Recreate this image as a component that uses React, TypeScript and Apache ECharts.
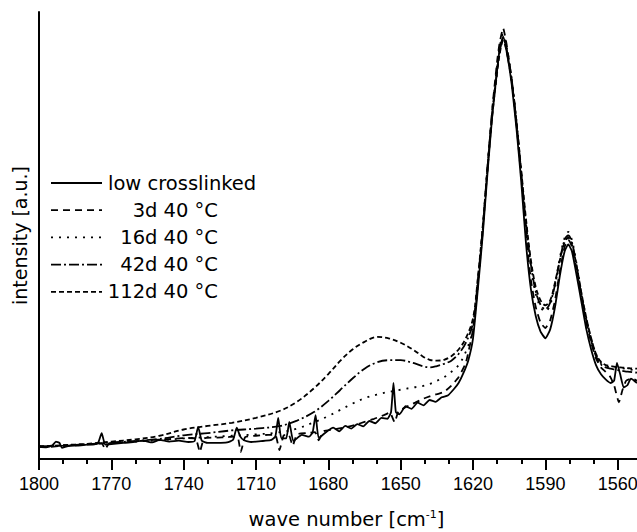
import { useEffect, useRef } from "react";
import * as echarts from "echarts";

// ---- data ----
const majorTicks = [1800, 1770, 1740, 1710, 1680, 1650, 1620, 1590, 1560];
const minorTicks = [1790, 1780, 1760, 1750, 1730, 1720, 1700, 1690, 1670, 1660, 1640, 1630, 1610, 1600, 1580, 1570];
const seriesNames = ["low crosslinked", "3d 40 °C", "16d 40 °C", "42d 40 °C", "112d 40 °C"];

const lowCrosslinked: [number, number][] = [
  [1800, 2.7], [1797, 2.6], [1794.5, 3.0], [1793, 3.9], [1791.5, 3.6], [1790.5, 2.5], [1788, 2.9], [1784, 3.0],
  [1780, 3.2], [1777, 3.3], [1775.5, 3.6], [1774, 5.8], [1772.5, 3.2], [1769, 3.4], [1765, 3.6], [1761, 3.8],
  [1757, 4.1], [1753, 3.7], [1750, 4.3], [1746, 3.9], [1742, 4.1], [1738, 3.8], [1735.5, 4.0], [1734, 7.2],
  [1732.5, 4.1], [1730, 3.6], [1726, 3.6], [1722, 3.7], [1719.5, 4.3], [1718, 7.0], [1716.5, 5.0], [1715, 4.2],
  [1712, 3.8], [1708, 4.0], [1704, 4.2], [1702, 5.0], [1700.8, 9.2], [1699.5, 4.6], [1697.5, 4.6], [1696.2, 8.3],
  [1694.5, 4.0], [1691, 5.4], [1688, 5.0], [1686.5, 6.0], [1685.3, 9.8], [1684, 4.7], [1681, 6.0], [1678, 7.0],
  [1675.5, 6.2], [1673, 7.4], [1670.5, 6.8], [1668, 7.8], [1665.5, 7.3], [1663, 8.5], [1660.5, 8.0], [1658, 9.2],
  [1655.5, 9.0], [1654, 10.5], [1653, 17.0], [1652, 10.5], [1650.5, 10.0], [1648, 11.8], [1645.5, 11.2], [1643, 12.6],
  [1640.5, 12.0], [1638, 13.2], [1635.5, 12.8], [1633, 13.8], [1630.5, 14.2], [1628, 15.6], [1626, 17.0], [1624, 19.2],
  [1622, 22.0], [1620, 27], [1618, 38], [1616, 50], [1614, 64], [1612, 77], [1610, 87], [1609, 91.5],
  [1607.5, 94.5], [1606, 91], [1604, 84], [1602, 74], [1600, 62], [1598, 48], [1596, 38], [1594, 32],
  [1592, 28.5], [1590, 27], [1588, 29], [1586, 34], [1584, 41], [1582, 46.5], [1580.5, 48], [1579, 46.5],
  [1577, 41], [1575, 35], [1573, 29], [1571, 24.5], [1569, 21], [1567, 19], [1565, 17.8], [1563, 17],
  [1561.5, 17.5], [1560.3, 21.5], [1559, 19], [1557.5, 16], [1556, 16.5], [1554.5, 18], [1552, 17],
];

const aged3d: [number, number][] = [
  [1800, 2.8], [1796, 2.7], [1792, 2.9], [1788, 3.0], [1784, 3.1], [1780, 3.3], [1776, 3.4], [1774, 3.5],
  [1772.5, 2.2], [1771, 3.5], [1767, 3.7], [1762, 3.9], [1757, 4.1], [1752, 4.3], [1747, 4.4], [1742, 4.6],
  [1738, 4.7], [1735, 4.6], [1733.3, 1.6], [1731.5, 4.6], [1726, 4.8], [1722, 4.9], [1719, 5.0], [1717.5, 4.8],
  [1716.3, 1.6], [1714.5, 4.9], [1710, 5.2], [1705, 5.4], [1702, 5.4], [1700.3, 2.0], [1698.5, 5.3], [1696.5, 5.5],
  [1694.8, 3.0], [1693, 5.5], [1689, 5.8], [1685.5, 6.0], [1684, 4.2], [1682, 6.2], [1678, 6.6], [1673, 7.1],
  [1669, 7.6], [1665, 8.3], [1661, 9.0], [1657, 9.8], [1654.5, 10.4], [1652.5, 8.2], [1651, 10.6], [1648, 11.6],
  [1644, 12.6], [1641, 13.4], [1638, 14], [1635, 14.5], [1632, 15], [1629, 16.4], [1626, 18.3], [1623, 21.5],
  [1620, 29], [1618, 39], [1616, 51], [1614, 65.5], [1612, 78.5], [1610, 89], [1609, 93], [1607.5, 96.4],
  [1606, 92.5], [1604, 85], [1602, 75], [1600, 63], [1598, 50], [1596, 40], [1594, 34], [1592, 30.5],
  [1590, 29.3], [1588, 31], [1586, 35.5], [1584, 42], [1582, 47.5], [1580.5, 49], [1579, 47.5], [1577, 42],
  [1575, 36], [1573, 30.5], [1571, 26], [1569, 22.5], [1567, 20.5], [1565, 19.5], [1563, 18.3], [1561.5, 16.5],
  [1559.5, 12.7], [1558, 15.5], [1556.5, 17.5], [1554, 18], [1552, 17.5],
];

const aged16d: [number, number][] = [
  [1800, 2.8], [1790, 3.0], [1780, 3.3], [1770, 3.6], [1760, 3.9], [1750, 4.2], [1740, 4.6], [1730, 4.9],
  [1720, 5.2], [1710, 5.5], [1700, 6.0], [1693, 6.8], [1686, 8.2], [1680, 9.6], [1675, 11], [1670, 12.4],
  [1665, 13.6], [1660, 14.4], [1655, 15], [1650, 15.5], [1645, 16], [1641, 16.3], [1638, 16.8], [1635, 17.5],
  [1632, 18.3], [1629, 19.5], [1626, 21], [1623, 24], [1620, 29], [1618, 39.5], [1616, 51], [1614, 65],
  [1612, 78], [1610, 88], [1609, 92], [1607.5, 95], [1606, 92], [1604, 85], [1602, 75.5], [1600, 64],
  [1598, 52], [1596, 43], [1594, 37], [1592, 34], [1590, 33], [1588, 34.5], [1586, 39], [1584, 45],
  [1582, 49.5], [1580.5, 50.8], [1579, 49], [1577, 43.5], [1575, 37], [1573, 31.5], [1571, 27], [1569, 23.5],
  [1567, 21.5], [1565, 20.8], [1563, 20.5], [1561, 20.5], [1559, 20.4], [1557, 20.2], [1555, 20], [1552, 19.8],
];

const aged42d: [number, number][] = [
  [1800, 2.8], [1790, 3.0], [1780, 3.3], [1770, 3.7], [1760, 4.0], [1750, 4.5], [1740, 5.3], [1730, 5.8],
  [1720, 6.4], [1710, 6.8], [1700, 7.4], [1693, 8.6], [1686, 10.5], [1680, 13], [1675, 15.5], [1670, 18],
  [1665, 20.2], [1660, 21.6], [1655, 22.1], [1650, 22.1], [1645, 21.5], [1641, 20.8], [1638, 20.5], [1635, 20.8],
  [1632, 21.3], [1629, 22], [1626, 23.5], [1623, 26], [1620, 30.5], [1618, 40], [1616, 51.5], [1614, 65],
  [1612, 77.5], [1610, 87], [1609, 91], [1607.5, 94], [1606, 91.5], [1604, 85], [1602, 75.5], [1600, 64],
  [1598, 52.5], [1596, 43.5], [1594, 37.5], [1592, 34.5], [1590, 33.5], [1588, 35], [1586, 39], [1584, 44.5],
  [1582, 49], [1580.5, 50], [1579, 48.5], [1577, 43], [1575, 36.5], [1573, 31], [1571, 26.5], [1569, 23],
  [1567, 21.2], [1565, 20.5], [1563, 20.2], [1561, 20], [1559, 19.8], [1557, 19.6], [1555, 19.5], [1552, 19.3],
];

const aged112d: [number, number][] = [
  [1800, 2.8], [1790, 3.1], [1780, 3.4], [1770, 3.9], [1760, 4.4], [1750, 5.2], [1740, 6.6], [1730, 7.4],
  [1720, 8.1], [1710, 9.2], [1700, 10.8], [1693, 12.8], [1686, 15.8], [1680, 19], [1675, 22], [1670, 24.5],
  [1665, 26.2], [1660, 27.3], [1655, 27], [1650, 26], [1645, 24.5], [1641, 23], [1638, 22.2], [1635, 22],
  [1632, 22.2], [1629, 23], [1626, 24.5], [1623, 27], [1620, 31.5], [1618, 40.5], [1616, 52], [1614, 65],
  [1612, 77], [1610, 86.5], [1609, 90.5], [1607.5, 93.5], [1606, 91], [1604, 84.5], [1602, 75.5], [1600, 64.5],
  [1598, 53.5], [1596, 44.5], [1594, 38.5], [1592, 35.5], [1590, 34.4], [1588, 35.5], [1586, 39.5], [1584, 44.5],
  [1582, 48.5], [1580.5, 49.5], [1579, 48], [1577, 43], [1575, 37], [1573, 31.5], [1571, 27], [1569, 23.5],
  [1567, 21.8], [1565, 21], [1563, 20.8], [1561, 20.6], [1559, 20.5], [1557, 20.4], [1555, 20.3], [1552, 20.2],
];

const seriesData = [lowCrosslinked, aged3d, aged16d, aged42d, aged112d];

// ---- styles ----
const dashes: (number[] | null)[] = [null, [7, 5], [2, 6], [10, 3, 2, 3], [5, 3]];
const smoothness = [0.15, 0.15, 0.35, 0.35, 0.35];
const LW = 1.8;

export default function App() {
  const ref = useRef<HTMLDivElement>(null);
  useEffect(() => {
    if (!ref.current) return;
    const chart = echarts.init(ref.current, undefined, { renderer: "svg" });
    const legendTop = 183;
    const legendStep = 27.2;
    const graphic: any[] = [];
    seriesNames.forEach((name, i) => {
      const y = legendTop + i * legendStep;
      graphic.push({
        type: "line",
        silent: true,
        shape: { x1: 51, y1: y, x2: 102, y2: y },
        style: { stroke: "#000", lineWidth: LW, lineDash: dashes[i] || undefined },
      });
      graphic.push({
        type: "text",
        silent: true,
        x: i === 0 ? 108 : 218,
        y,
        style: {
          text: name,
          fill: "#000",
          font: '19.5px "DejaVu Sans"',
          align: i === 0 ? "left" : "right",
          verticalAlign: "middle",
        },
      });
    });

    chart.setOption({
      animation: false,
      backgroundColor: "#fff",
      grid: { left: 39, right: 0, top: 12, bottom: 73, containLabel: false, outerBoundsMode: "none" },
      xAxis: [
        {
          type: "value",
          min: 1552,
          max: 1800,
          inverse: true,
          name: "wave number [cm{sup|-1}]",
          nameLocation: "middle",
          nameGap: 50,
          nameTextStyle: {
            fontSize: 19.5,
            fontFamily: "DejaVu Sans",
            color: "#000",
            padding: [0, 0, 0, 17],
            rich: {
              sup: { fontSize: 11, fontFamily: "DejaVu Sans", color: "#000", verticalAlign: "top", lineHeight: 11 },
            },
          },
          axisLine: { show: true, onZero: false, lineStyle: { color: "#000", width: 2 } },
          axisTick: { show: true, customValues: majorTicks, length: 11, inside: false, lineStyle: { color: "#000", width: 2 } },
          axisLabel: {
            customValues: majorTicks,
            margin: 16,
            fontSize: 18,
            fontFamily: '"Liberation Sans", Arial',
            color: "#000",
            formatter: (v: number) => String(v),
          },
          splitLine: { show: false },
        },
        {
          type: "value",
          min: 1552,
          max: 1800,
          inverse: true,
          position: "bottom",
          axisLine: { show: false },
          axisTick: { show: true, customValues: minorTicks, length: 5, lineStyle: { color: "#000", width: 2 } },
          axisLabel: { show: false },
          splitLine: { show: false },
        },
      ],
      yAxis: {
        type: "value",
        min: 0,
        max: 100,
        name: "intensity [a.u.]",
        nameLocation: "middle",
        nameGap: 10,
        nameTextStyle: { fontSize: 19, fontFamily: "DejaVu Sans", color: "#000" },
        axisLine: { show: true, onZero: false, lineStyle: { color: "#000", width: 2 } },
        axisTick: { show: false },
        axisLabel: { show: false },
        splitLine: { show: false },
      },
      graphic,
      series: seriesData.map((data, i) => ({
        name: seriesNames[i],
        type: "line",
        xAxisIndex: 0,
        yAxisIndex: 0,
        data,
        showSymbol: false,
        symbol: "none",
        smooth: smoothness[i],
        lineStyle: { color: "#000", width: LW, type: dashes[i] || "solid" },
        z: 10 - i,
      })),
    });
    return () => chart.dispose();
  }, []);
  return (
    <div
      ref={ref}
      style={{ position: "fixed", left: 0, top: 0, width: 637, height: 532, background: "#fff" }}
    />
  );
}
